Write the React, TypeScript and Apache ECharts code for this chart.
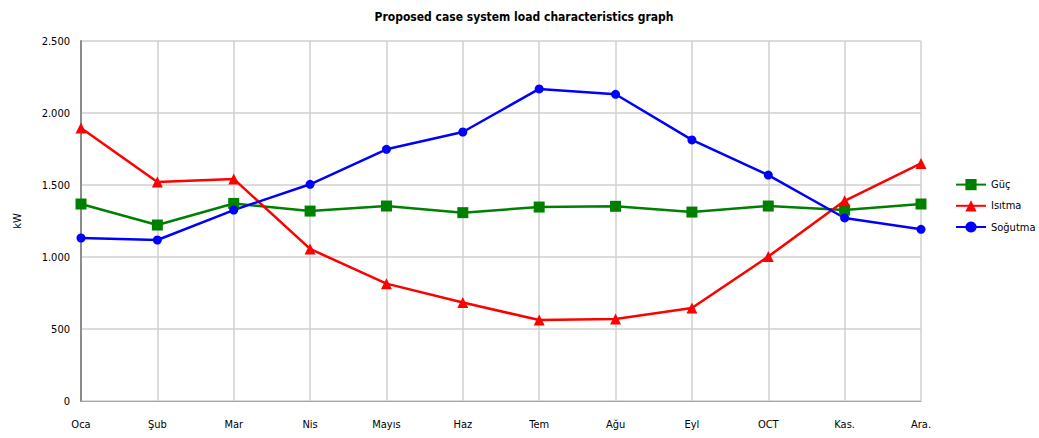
import React, { useEffect, useRef } from "react";
import * as echarts from "echarts";

const months = ["Oca", "Şub", "Mar", "Nis", "Mayıs", "Haz", "Tem", "Ağu", "Eyl", "OCT", "Kas.", "Ara."];
const guc = [1368, 1222, 1372, 1319, 1354, 1308, 1347, 1352, 1312, 1354, 1326, 1368];
const isitma = [1896, 1521, 1542, 1056, 815, 684, 562, 569, 646, 1003, 1390, 1650];
const sogutma = [1132, 1118, 1326, 1505, 1748, 1868, 2167, 2130, 1813, 1569, 1271, 1192];
const yTicks = [0, 500, 1000, 1500, 2000, 2500];

const FONT = "'DejaVu Sans Condensed', 'Liberation Sans Narrow', 'DejaVu Sans', sans-serif";

export default function App() {
  const ref = useRef<HTMLDivElement>(null);
  useEffect(() => {
    if (!ref.current) return;
    const chart = echarts.init(ref.current, undefined, { renderer: "svg" });
    const fmt = (v: number) => String(v).replace(/\B(?=(\d{3})+(?!\d))/g, ".");
    chart.setOption({
      animation: false,
      backgroundColor: "#ffffff",
      textStyle: { fontFamily: FONT },
      title: {
        text: "Proposed case system load characteristics graph",
        left: 519,
        textAlign: "center",
        top: 6,
        textStyle: { fontFamily: FONT, fontSize: 12, fontWeight: "bold", color: "#000" },
      },
      legend: {
        orient: "vertical",
        left: 950,
        top: 174,
        itemGap: 10,
        itemWidth: 30,
        itemHeight: 14,
        textStyle: { fontFamily: FONT, fontSize: 11, color: "#000" },
        data: ["Güç", "Isıtma", "Soğutma"],
      },
      grid: { left: 81, right: 118, top: 41, bottom: 37, containLabel: false },
      xAxis: {
        type: "category",
        data: months,
        boundaryGap: false,
        axisLine: { lineStyle: { color: "#a6a6a6", width: 1 } },
        axisTick: { show: false },
        axisLabel: { color: "#000", fontSize: 11, fontFamily: FONT, margin: 18 },
        splitLine: { show: true, lineStyle: { color: "#d0d0d0", width: 1.5 } },
      },
      yAxis: {
        type: "value",
        min: yTicks[0],
        max: yTicks[yTicks.length - 1],
        interval: 500,
        name: "kW",
        nameLocation: "middle",
        nameGap: 58,
        nameRotate: 90,
        nameTextStyle: { color: "#000", fontSize: 11, fontFamily: FONT },
        axisLine: { show: true, lineStyle: { color: "#8c8c8c", width: 2 } },
        axisTick: { show: false },
        axisLabel: { color: "#000", fontSize: 11, fontFamily: FONT, margin: 11, formatter: fmt },
        splitLine: { show: true, lineStyle: { color: "#d0d0d0", width: 1.5 } },
      },
      series: [
        {
          name: "Güç",
          type: "line",
          data: guc,
          symbol: "rect",
          symbolSize: 11,
          itemStyle: { color: "#008000" },
          lineStyle: { color: "#008000", width: 2.5 },
        },
        {
          name: "Isıtma",
          type: "line",
          data: isitma,
          symbol: "triangle",
          symbolSize: 11,
          itemStyle: { color: "#ff0000" },
          lineStyle: { color: "#ff0000", width: 2.5 },
        },
        {
          name: "Soğutma",
          type: "line",
          data: sogutma,
          symbol: "circle",
          symbolSize: 9,
          itemStyle: { color: "#0000ff" },
          lineStyle: { color: "#0000ff", width: 2.5 },
        },
      ],
    });
    return () => chart.dispose();
  }, []);
  return <div ref={ref} style={{ width: 1039, height: 438, position: "absolute", left: 0, top: 0 }} />;
}
